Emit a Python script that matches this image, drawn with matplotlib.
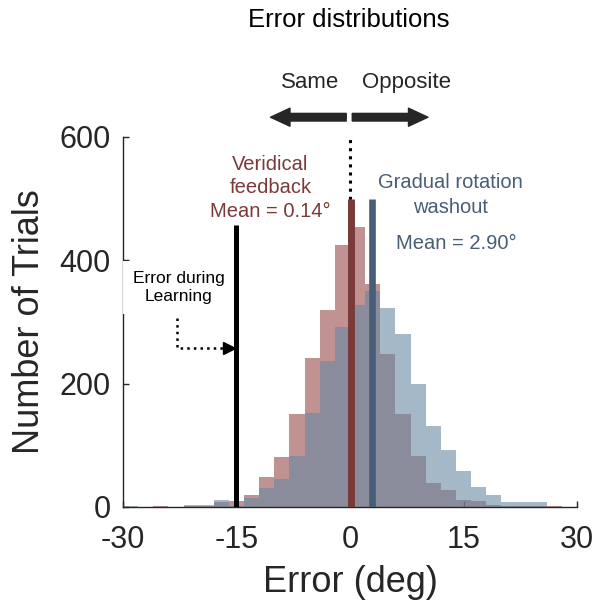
import numpy as np
import matplotlib
matplotlib.use('Agg')
from matplotlib import pyplot as plt
from matplotlib.patches import FancyArrowPatch

# bins of 2 deg, left edges from -30 to 28
bin_left = np.arange(-30, 30, 2)
veridical_counts = [0, 0, 1, 0, 2, 2, 8, 9, 20, 48, 81, 150, 242, 319, 424,
                    454, 361, 248, 151, 83, 39, 27, 12, 10, 4, 2, 2, 2, 1, 0]
washout_counts = [1, 0, 0, 0, 3, 3, 11, 2, 15, 31, 46, 83, 152, 236, 292,
                  328, 350, 322, 281, 199, 132, 92, 59, 32, 20, 8, 8, 8, 0, 0]
veridical_mean = 0.14
washout_mean = 2.90
learning_error = -15
xticks = [-30, -15, 0, 15, 30]
yticks = [0, 200, 400, 600]

red = '#964949'
blue = '#6789a3'
red_dark = '#7b3a3a'
blue_dark = '#475e76'
txt = '#262626'

plt.rcParams['font.family'] = ['Liberation Sans', 'DejaVu Sans']

fig = plt.figure(figsize=(5.99, 6.06), dpi=100)
ax = fig.add_axes([0.2053, 0.1634, 0.758, 0.6106])

# dotted zero line (under the bars)
ax.plot([0, 0], [0, 600], ls=':', color='black', lw=2.2, zorder=1)

ax.bar(bin_left, veridical_counts, width=2, align='edge', color=red, alpha=0.6,
       linewidth=0, zorder=2)
ax.bar(bin_left, washout_counts, width=2, align='edge', color=blue, alpha=0.6,
       linewidth=0, zorder=2)

# mean lines
ax.plot([veridical_mean] * 2, [0, 500], color=red_dark, lw=5, solid_capstyle='butt', zorder=3)
ax.plot([washout_mean] * 2, [0, 500], color=blue_dark, lw=4.8, solid_capstyle='butt', zorder=3)
ax.plot([learning_error] * 2, [0, 458], color='black', lw=3.6, solid_capstyle='butt', zorder=3)

ax.set_xlim(-30, 30)
ax.set_ylim(0, 600)
ax.set_xticks(xticks)
ax.set_yticks(yticks)
ax.set_xticklabels([str(t) for t in xticks])
for s in ['top', 'right']:
    ax.spines[s].set_visible(False)
for s in ['left', 'bottom']:
    ax.spines[s].set_color(txt)
    ax.spines[s].set_linewidth(1.0)
ax.tick_params(direction='in', length=4, width=1, color=txt, labelcolor=txt, labelsize=22)
ax.tick_params(axis='x', pad=13)
ax.tick_params(axis='y', pad=9)
ax.set_xlabel('Error (deg)', fontsize=26, color=txt, labelpad=7)
ax.set_ylabel('Number of Trials', fontsize=26, color=txt, labelpad=9)

# annotations
ax.text(-10.5, 518, 'Veridical\nfeedback\nMean = 0.14°', color=red_dark, fontsize=14.5,
        ha='center', va='center', linespacing=1.3, zorder=4)
ax.text(13.3, 506, 'Gradual rotation\nwashout', color=blue_dark, fontsize=14.5,
        ha='center', va='center', linespacing=1.35, zorder=4)
ax.text(14.0, 427, 'Mean = 2.90°', color=blue_dark, fontsize=14.5,
        ha='center', va='center', zorder=4)
ax.text(-22.6, 356, 'Error during\nLearning', color='black', fontsize=12.5,
        ha='center', va='center', linespacing=1.25, zorder=2.8,
        bbox=dict(facecolor='white', edgecolor='none', pad=7), clip_on=False)
ax.plot([-22.8, -22.8, -16.4], [307, 257, 257], ls=':', color='black', lw=1.8, zorder=4)
ax.plot([-16.0], [257], marker='>', color='black', ms=8, zorder=4)

# direction arrows above the axes
for x0, x1 in [(-0.5, -10.5), (0.3, 10.3)]:
    ar = FancyArrowPatch((x0, 632), (x1, 632), arrowstyle='simple,head_length=14,head_width=13,tail_width=5.5',
                         mutation_scale=1, color=txt, shrinkA=0, shrinkB=0, clip_on=False, zorder=5)
    ax.add_patch(ar)
ax.text(-5.3, 688, 'Same', fontsize=16, color=txt, ha='center', va='center', clip_on=False)
ax.text(7.45, 688, 'Opposite', fontsize=16, color=txt, ha='center', va='center', clip_on=False)

fig.text(0.5826, 0.967, 'Error distributions', fontsize=18.5, color='black', ha='center', va='center')

plt.savefig('out.png', dpi=100)
